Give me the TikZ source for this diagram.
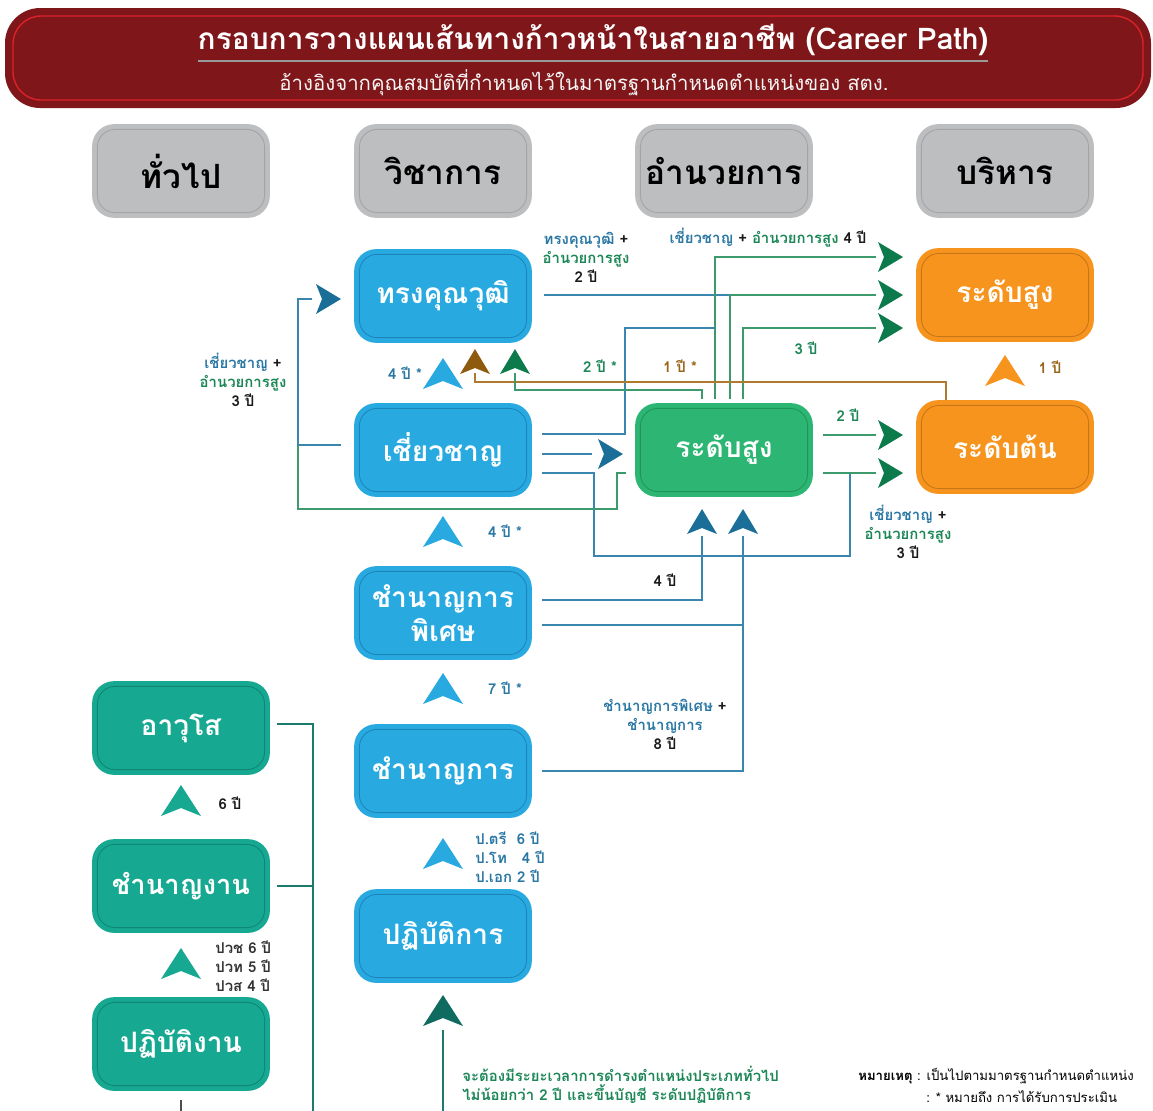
\documentclass[tikz,border=0pt]{standalone}
\usepackage{fontspec}
\setmainfont[Script=Thai]{Loma}
\usetikzlibrary{calc}

\definecolor{hdred}{HTML}{7F1619}
\definecolor{hdline}{HTML}{DA2229}
\definecolor{gry}{HTML}{BDBEC0}
\definecolor{gryline}{HTML}{A3A4A7}
\definecolor{blu}{HTML}{28AAE1}
\definecolor{bluline}{HTML}{1C86BC}
\definecolor{grn}{HTML}{2DB673}
\definecolor{grnline}{HTML}{1F9659}
\definecolor{org}{HTML}{F7941E}
\definecolor{orgline}{HTML}{C8761A}
\definecolor{tea}{HTML}{17A892}
\definecolor{tealine}{HTML}{0E8774}
\definecolor{dkblue}{HTML}{1B6E97}
\definecolor{dkgreen}{HTML}{0C7A4B}
\definecolor{dkbrown}{HTML}{8E5A0E}
\definecolor{dkteal}{HTML}{0F6B5F}
\definecolor{lnblue}{HTML}{3A86AF}
\definecolor{lngreen}{HTML}{3C9A6C}
\definecolor{lnbrown}{HTML}{B07A2C}
\definecolor{lnteal}{HTML}{1C7B6F}
\definecolor{txblue}{HTML}{2A77A4}
\definecolor{txgreen}{HTML}{1B8656}
\definecolor{txbrown}{HTML}{9A6418}
\definecolor{txblack}{HTML}{1A1A1A}

\newcommand{\tblue}{\color{txblue}}
\newcommand{\tgreen}{\color{txgreen}}
\newcommand{\tbrown}{\color{txbrown}}

\tikzset{
  fbox/.style={fill=#1, draw=#1, line width=1pt,
    path picture={\draw[#1line, line width=0.5pt, rounded corners=10pt]
      ([shift={(2.5pt,2.5pt)}]path picture bounding box.south west) rectangle
      ([shift={(-2.5pt,-2.5pt)}]path picture bounding box.north east);}},
  dart/.pic={\fill[pic actions] (0,-17) -- (20,14) -- (0,6) -- (-20,14) -- cycle;},
  sdart/.pic={\fill[pic actions] (0,-13) -- (15,12) -- (0,6) -- (-15,12) -- cycle;}
}

\begin{document}
\begin{tikzpicture}[x=0.02cm,y=-0.02cm]
        \tikzstyle{box}=[rounded corners=12pt,minimum width=3.52cm,minimum height=1.84cm,inner sep=0pt,align=center,text=white,font=\fontsize{16}{19}\selectfont\bfseries]
        \tikzstyle{head}=[box,text=black,font=\fontsize{19}{22}\selectfont\bfseries]
        \tikzstyle{lbl}=[inner sep=0pt,align=center,text=txblack,font=\fontsize{8.5}{10.8}\selectfont\bfseries]
        \tikzstyle{ln}=[line width=0.8pt]

        \useasboundingbox (0,0) rectangle (1153,1110);

        % header
        \fill[hdred, rounded corners=20pt] (5,8) rectangle (1151,108);
        \draw[hdline, line width=0.8pt, rounded corners=16pt] (13,16) rectangle (1143,100);
        \node (title)[text=white,font=\fontsize{17}{19}\selectfont\bfseries] at (593,40) {กรอบการวางแผนเส้นทางก้าวหน้าในสายอาชีพ (Career Path)};
        \draw[gray!80, line width=0.6pt] (198,61) -- (988,61);
        \node (sub)[text=white!92!gray,font=\fontsize{11.6}{13}\selectfont] at (584,83) {อ้างอิงจากคุณสมบัติที่กำหนดไว้ในมาตรฐานกำหนดตำแหน่งของ สตง.};

        % column heads
        \node (gen)[head,fbox=gry] at (181,171) {ทั่วไป};
        \node (aca)[head,fbox=gry] at (443,171) {วิชาการ};
        \node (dir)[head,fbox=gry] at (724,171) {อำนวยการ};
        \node (man)[head,fbox=gry] at (1005,171) {บริหาร};

        % boxes
        \node (tk)[box,fbox=blu] at (443,296) {ทรงคุณวุฒิ};
        \node (ch)[box,fbox=blu] at (443,450) {เชี่ยวชาญ};
        \node (csp)[box,fbox=blu] at (443,613) {ชำนาญการ\\พิเศษ};
        \node (cg)[box,fbox=blu] at (443,771) {ชำนาญการ};
        \node (pk)[box,fbox=blu] at (443,936) {ปฏิบัติการ};
        \node (hs)[box,fbox=grn] at (724,450) {ระดับสูง};
        \node (ms)[box,fbox=org] at (1005,295) {ระดับสูง};
        \node (mt)[box,fbox=org] at (1005,447) {ระดับต้น};
        \node (aw)[box,fbox=tea] at (181,728) {อาวุโส};
        \node (cn)[box,fbox=tea,font=\fontsize{15.5}{19}\selectfont\bfseries] at (181,886) {ชำนาญงาน};
        \node (pn)[box,fbox=tea] at (181,1044) {ปฏิบัติงาน};

        % arrow heads
        \coordinate (a1) at (890,257);
        \coordinate (a2) at (890,295);
        \coordinate (a3) at (890,328);
        \coordinate (a4) at (610,454);
        \coordinate (a5) at (890,473);
        \coordinate (a6) at (890,435);
        \coordinate (a7) at (328,299);
        \coordinate (a8) at (702,522);
        \coordinate (a9) at (743,522);
        \coordinate (ab) at (475,362);
        \coordinate (ag) at (515,362);
        \coordinate (ap) at (443,1012);

        \pic[fill=dkgreen,rotate=-90] at (a1) {sdart};
        \pic[fill=dkgreen,rotate=-90] at (a2) {sdart};
        \pic[fill=dkgreen,rotate=-90] at (a3) {sdart};
        \pic[fill=dkblue,rotate=-90] at (a4) {sdart};
        \pic[fill=dkgreen,rotate=-90] at (a5) {sdart};
        \pic[fill=dkgreen,rotate=-90] at (a6) {sdart};
        \pic[fill=dkblue,rotate=-90] at (a7) {sdart};
        \pic[fill=dkblue] at (a8) {sdart};
        \pic[fill=dkblue] at (a9) {sdart};
        \pic[fill=dkbrown] at (ab) {sdart};
        \pic[fill=dkgreen] at (ag) {sdart};
        \pic[fill=dkteal] at (ap) {dart};

        \pic[fill=blu] at (443,375) {dart};
        \pic[fill=blu] at (443,533) {dart};
        \pic[fill=blu] at (443,690) {dart};
        \pic[fill=blu] at (443,855) {dart};
        \pic[fill=org] at (1005,372) {dart};
        \pic[fill=tea] at (181,802) {dart};
        \pic[fill=tea] at (181,965) {dart};

        % connectors
        \draw[ln,lnblue] ($(tk.east)+(12,-1)$) -- (730,295);
        \draw[ln,lngreen] ($(hs.north)+(6,-4)$) |- ($(a2)+(-14,0)$);
        \draw[ln,lngreen] ($(hs.north)+(-9,-4)$) |- ($(a1)+(-14,0)$);
        \draw[ln,lnblue] ($(ch.east)+(10,-16)$) -| (625,328) -- (715,328);
        \draw[ln,lngreen] ($(hs.north)+(19,-4)$) |- ($(a3)+(-14,0)$);
        \draw[ln,lnblue] ($(ch.east)+(10,4)$) -- ($(a4)+(-18,0)$);
        \draw[ln,lnblue] ($(ch.east)+(10,23)$) -| (594,556) -| (850,473);
        \draw[ln,lngreen] ($(hs.east)+(10,23)$) -- ($(a5)+(-14,0)$);
        \draw[ln,lngreen] ($(hs.east)+(10,-15)$) -- ($(a6)+(-14,0)$);
        \draw[ln,lngreen] ($(hs.west)+(-9,23)$) -| (617,509) -| (298,445);
        \draw[ln,lnblue] ($(ch.west)+(-13,-5)$) -| (298,299) -- ($(a7)+(-16,0)$);
        \draw[ln,lnbrown] ($(mt.north)+(-59,0)$) |- (475,382) -- ($(ab)+(0,11)$);
        \draw[ln,lngreen] ($(hs.north)+(-22,-4)$) |- (515,390) -- ($(ag)+(0,11)$);
        \draw[ln,lnblue] ($(csp.east)+(10,-13)$) -| ($(a8)+(0,14)$);
        \draw[ln,lnblue] ($(csp.east)+(10,12)$) -- (743,625);
        \draw[ln,lnblue] ($(cg.east)+(10,0)$) -| ($(a9)+(0,14)$);
        \draw[ln,lnteal] ($(aw.east)+(7,-4)$) -| (313,1115);
        \draw[ln,lnteal] ($(cn.east)+(7,0)$) -- (313,886);
        \draw[ln,black!70] ($(pn.south)+(0,9)$) -- (181,1115);
        \draw[ln,lnteal] ($(ap)+(0,18)$) -- (443,1115);

        % labels
        \node (l1)[lbl] at (586,257) {{\tblue ทรงคุณวุฒิ} +\\{\tgreen อำนวยการสูง}\\2 ปี};
        \node (l2)[lbl] at (768,238) {{\tblue เชี่ยวชาญ} + {\tgreen อำนวยการสูง} 4 ปี};
        \node (l3)[lbl,text=txgreen] at (806,348) {3 ปี};
        \node (l4)[lbl,text=txgreen] at (600,366) {2 ปี *};
        \node (l5)[lbl,text=txbrown] at (680,366) {1 ปี *};
        \node (l6)[lbl,text=txblue] at (405,373) {4 ปี *};
        \node (l7)[lbl] at (243,380) {{\tblue เชี่ยวชาญ} +\\{\tgreen อำนวยการสูง}\\3 ปี};
        \node (l8)[lbl,text=txgreen] at (848,415) {2 ปี};
        \node (l9)[lbl,text=txbrown] at (1050,367) {1 ปี};
        \node (l10)[lbl] at (908,532) {{\tblue เชี่ยวชาญ} +\\{\tgreen อำนวยการสูง}\\3 ปี};
        \node (l11)[lbl,text=txblue] at (505,531) {4 ปี *};
        \node (l12)[lbl] at (665,580) {4 ปี};
        \node (l13)[lbl,text=txblue] at (505,688) {7 ปี *};
        \node (l14)[lbl] at (665,724) {{\tblue ชำนาญการพิเศษ} +\\{\tblue ชำนาญการ}\\8 ปี};
        \node (l15)[lbl,text=txblue,align=left,anchor=west] at (475,857) {ป.ตรี\ \ 6 ปี\\ป.โท\ \ \ 4 ปี\\ป.เอก 2 ปี};
        \node (l16)[lbl] at (230,803) {6 ปี};
        \node (l17)[lbl,text=black!80,align=left,anchor=west] at (215,966) {ปวช 6 ปี\\ปวท 5 ปี\\ปวส 4 ปี};
        \node (l18)[lbl,text=txgreen,align=left,anchor=west] at (462,1085) {จะต้องมีระยะเวลาการดำรงตำแหน่งประเภททั่วไป\\ไม่น้อยกว่า 2 ปี และขึ้นบัญชี ระดับปฏิบัติการ};
        \node (n1)[inner sep=0pt,anchor=west,font=\fontsize{7.5}{9}\selectfont] at (858,1076) {\textbf{หมายเหตุ} : เป็นไปตามมาตรฐานกำหนดตำแหน่ง};
        \node (n2)[inner sep=0pt,anchor=west,font=\fontsize{7.5}{9}\selectfont] at (926,1097) {: * หมายถึง การได้รับการประเมิน};
\end{tikzpicture}
\end{document}
